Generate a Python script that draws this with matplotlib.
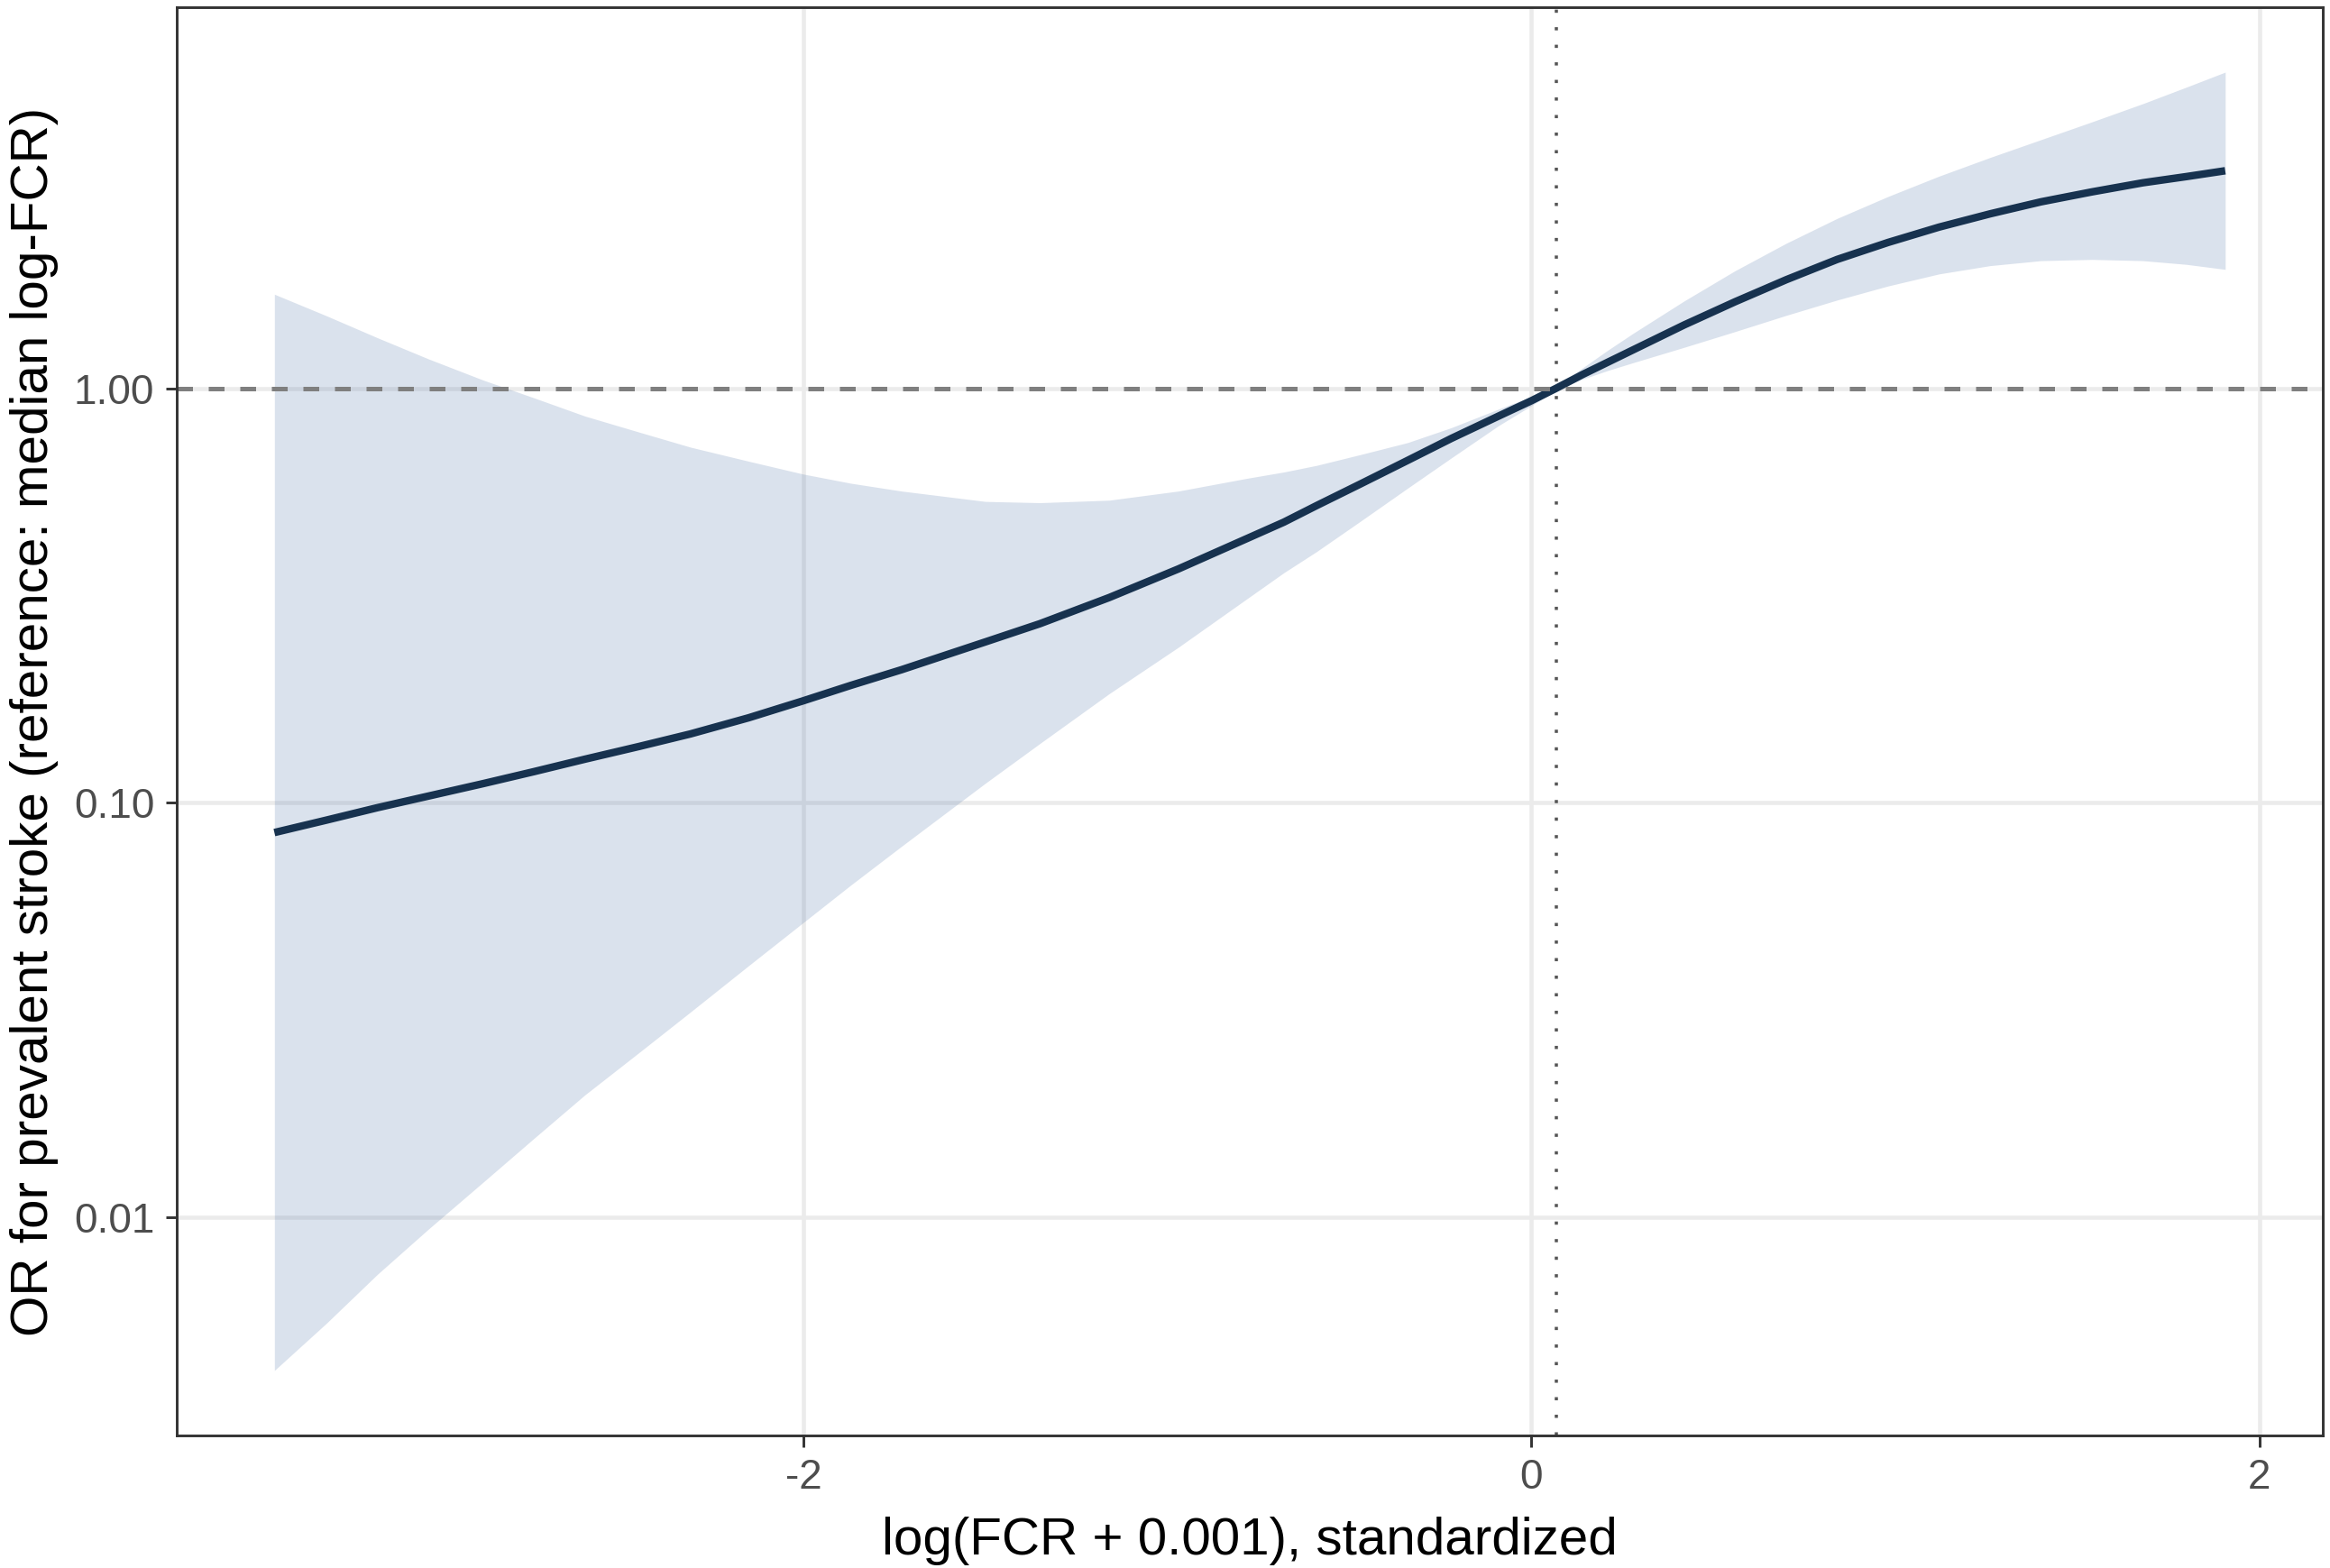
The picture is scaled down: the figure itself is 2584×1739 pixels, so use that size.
import matplotlib
matplotlib.use("Agg")
import matplotlib.pyplot as plt

plt.rcParams["font.family"] = ["Liberation Sans", "DejaVu Sans"]

# values: x is standardized log-FCR,
# the OR values are kept as log10(OR) and drawn on a log axis
x_vals = [-3.453, -3.31, -3.17, -3.03, -2.88, -2.74, -2.60, -2.45, -2.31, -2.15,
          -2.00, -1.87, -1.73, -1.50, -1.35, -1.16, -0.97, -0.78, -0.68, -0.59,
          -0.47, -0.34, -0.22, -0.09, 0.00, 0.068, 0.14, 0.21, 0.28, 0.42,
          0.56, 0.70, 0.84, 0.98, 1.12, 1.26, 1.40, 1.54, 1.68, 1.80, 1.906]
log10_or_fit = [-1.072, -1.042, -1.012, -0.984, -0.954, -0.925, -0.895, -0.864, -0.834, -0.795,
                -0.754, -0.717, -0.679, -0.612, -0.568, -0.505, -0.436, -0.362, -0.323, -0.283,
                -0.231, -0.174, -0.121, -0.067, -0.030, 0.0, 0.033, 0.063, 0.093, 0.153,
                0.209, 0.262, 0.311, 0.352, 0.389, 0.421, 0.450, 0.474, 0.496, 0.511, 0.525]
log10_or_upper = [0.227, 0.175, 0.122, 0.071, 0.020, -0.023, -0.067, -0.106, -0.142, -0.176,
                  -0.207, -0.229, -0.248, -0.273, -0.276, -0.270, -0.248, -0.217, -0.202, -0.186,
                  -0.160, -0.131, -0.095, -0.050, -0.020, 0.004, 0.049, 0.092, 0.133, 0.211,
                  0.284, 0.350, 0.410, 0.463, 0.512, 0.557, 0.600, 0.643, 0.687, 0.727, 0.763]
log10_or_lower = [-2.370, -2.256, -2.138, -2.029, -1.916, -1.810, -1.705, -1.602, -1.505, -1.393,
                  -1.289, -1.199, -1.105, -0.953, -0.857, -0.737, -0.625, -0.507, -0.445, -0.394,
                  -0.321, -0.241, -0.168, -0.090, -0.042, -0.004, 0.022, 0.043, 0.062, 0.099,
                  0.137, 0.176, 0.213, 0.247, 0.276, 0.296, 0.308, 0.311, 0.308, 0.299, 0.287]

ref_x = 0.068
x_ticks = [-2, 0, 2]
x_ticklabels = ["-2", "0", "2"]
y_ticks = [0.01, 0.1, 1.0]
y_ticklabels = ["0.01", "0.10", "1.00"]

or_fit = [10 ** v for v in log10_or_fit]
or_upper = [10 ** v for v in log10_or_upper]
or_lower = [10 ** v for v in log10_or_lower]

fig = plt.figure(figsize=(2584 / 300, 1739 / 300), dpi=300)
ax = fig.add_axes([0.0759, 0.0845, 0.921, 0.911])

ax.set_yscale("log")
ax.set_xlim(-3.721, 2.174)
ax.set_ylim(10 ** -2.527, 10 ** 0.920)

# grid
ax.set_axisbelow(True)
ax.grid(True, which="major", color="#EBEBEB", linewidth=1.1)
ax.minorticks_off()

ax.fill_between(x_vals, or_lower, or_upper, color="#4A6FA5", alpha=0.2, linewidth=0)
ax.plot(x_vals, or_fit, color="#17324F", linewidth=2.0,
        solid_capstyle="butt", solid_joinstyle="round")

ax.axhline(1.0, color="#7F7F7F", linewidth=1.2, linestyle=(0, (3.5, 3.5)))
ax.axvline(ref_x, color="#555555", linewidth=0.85, linestyle=(0, (1, 4.5)))

ax.set_xticks(x_ticks)
ax.set_xticklabels(x_ticklabels)
ax.set_yticks(y_ticks)
ax.set_yticklabels(y_ticklabels)
ax.tick_params(axis="both", which="major", length=3, width=0.7, color="#333333",
               labelsize=11, labelcolor="#4D4D4D", pad=3)

for s in ax.spines.values():
    s.set_color("#333333")
    s.set_linewidth(0.7)

ax.set_xlabel("log(FCR + 0.001), standardized", fontsize=14, labelpad=5)
ax.set_ylabel("OR for prevalent stroke (reference: median log-FCR)", fontsize=14, labelpad=4)

fig.savefig("out.png", dpi=300)
